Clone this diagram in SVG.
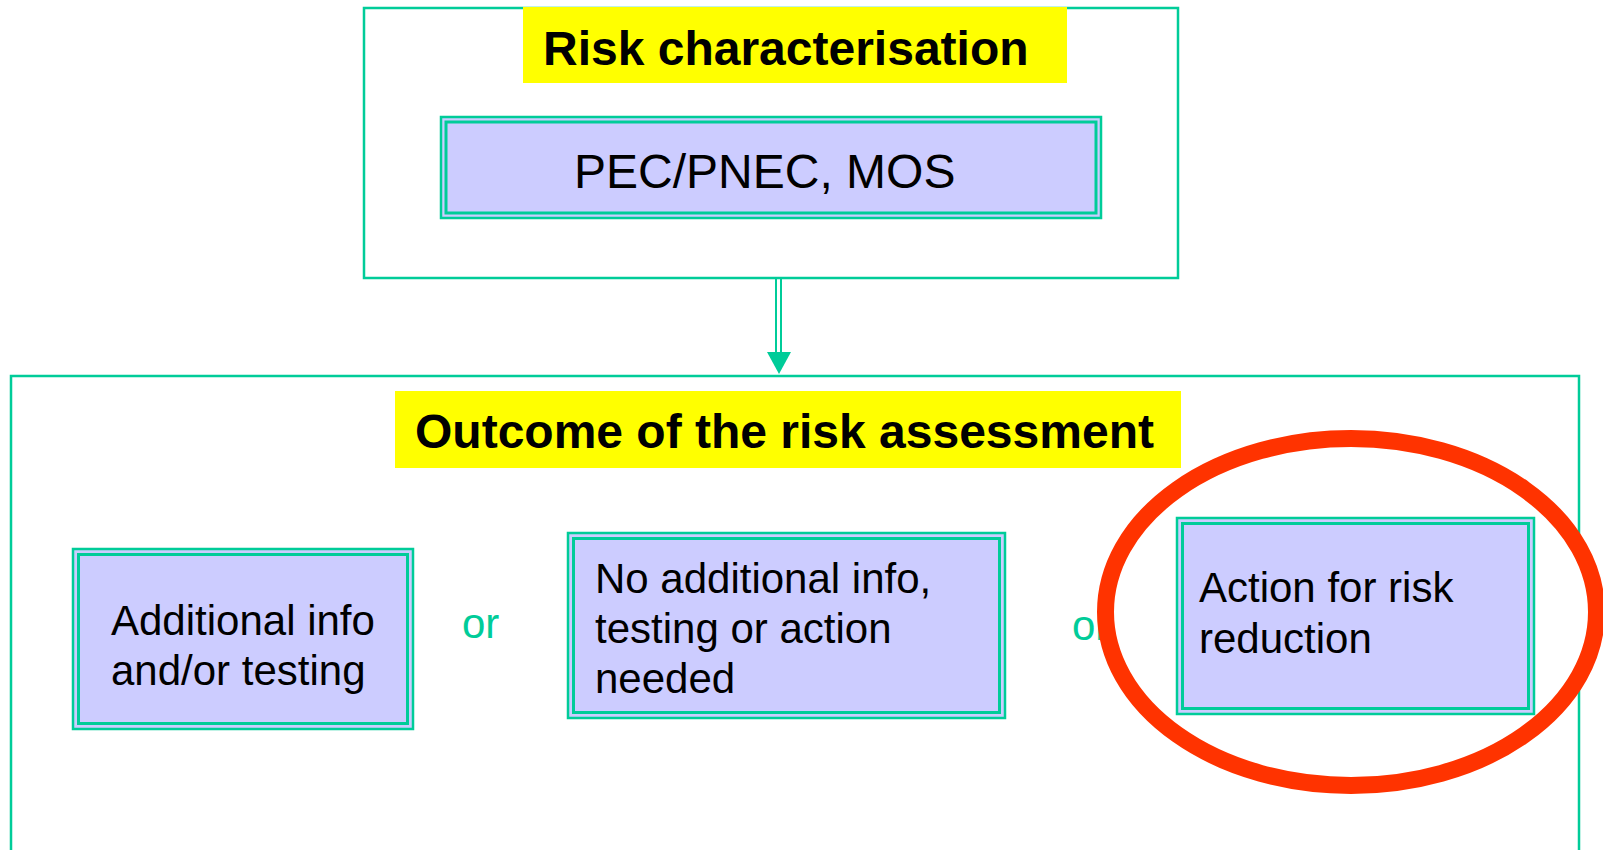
<svg xmlns="http://www.w3.org/2000/svg" width="1603" height="850" viewBox="0 0 1603 850">
<defs>
<style>
.frame{fill:#FFFFFF;stroke:#00CC99;stroke-width:2.5}
.label{fill:#FFFF00}
.title{font-family:"Liberation Sans",Arial,sans-serif;font-weight:bold;font-size:48px;fill:#000000}
.boxo{fill:#CCCCFF;stroke:#00CC99;stroke-width:2.5}
.boxi{fill:none;stroke:#00CC99;stroke-width:3}
.txt{font-family:"Liberation Sans",Arial,sans-serif;font-size:42px;fill:#000000}
.big{font-family:"Liberation Sans",Arial,sans-serif;font-size:48px;fill:#000000}
.or{font-family:"Liberation Sans",Arial,sans-serif;font-size:42px;fill:#00CC99}
.conn{stroke:#00CC99;stroke-width:2;fill:none}
</style>
</defs>
<rect width="1603" height="850" fill="#FFFFFF"/>

<g id="risk-characterisation">
<rect class="frame" x="364" y="8" width="814" height="270"/>
<rect class="label" x="523" y="7" width="544" height="76"/>
<text class="title" x="543" y="65">Risk characterisation</text>
</g>

<g id="pec-pnec">
<rect class="boxo" x="441" y="117" width="660" height="101"/>
<rect class="boxi" x="446" y="122" width="650" height="91"/>
<text class="big" x="574" y="188">PEC/PNEC, MOS</text>
</g>

<g id="connectors">
<line class="conn" x1="776" y1="279" x2="776" y2="354"/>
<line class="conn" x1="781" y1="279" x2="781" y2="354"/>
<polygon points="767,352 791,352 779,374" fill="#00CC99"/>
</g>

<g id="outcome">
<rect class="frame" x="11" y="376" width="1568" height="520"/>
<rect class="label" x="395" y="391" width="786" height="77"/>
<text class="title" x="415" y="448">Outcome of the risk assessment</text>
</g>

<g id="additional-info">
<rect class="boxo" x="73" y="549" width="340" height="180"/>
<rect class="boxi" x="78.5" y="554.5" width="329" height="169"/>
<text class="txt" x="111" y="635">Additional info</text>
<text class="txt" x="111" y="685">and/or testing</text>
</g>

<text class="or" x="462" y="638">or</text>

<g id="no-additional-info">
<rect class="boxo" x="568" y="533" width="437" height="185"/>
<rect class="boxi" x="573.5" y="538.5" width="426" height="174"/>
<text class="txt" x="595" y="593">No additional info,</text>
<text class="txt" x="595" y="643">testing or action</text>
<text class="txt" x="595" y="693">needed</text>
</g>

<text class="or" x="1072" y="640">or</text>

<g id="highlight">
<ellipse cx="1351" cy="612" rx="245.5" ry="173.5" fill="#FFFFFF" stroke="#FF3300" stroke-width="17"/>
</g>

<g id="action-risk-reduction">
<rect class="boxo" x="1177" y="518" width="357" height="196"/>
<rect class="boxi" x="1182.5" y="523.5" width="346" height="185"/>
<text class="txt" x="1199" y="602">Action for risk</text>
<text class="txt" x="1199" y="653">reduction</text>
</g>
</svg>
